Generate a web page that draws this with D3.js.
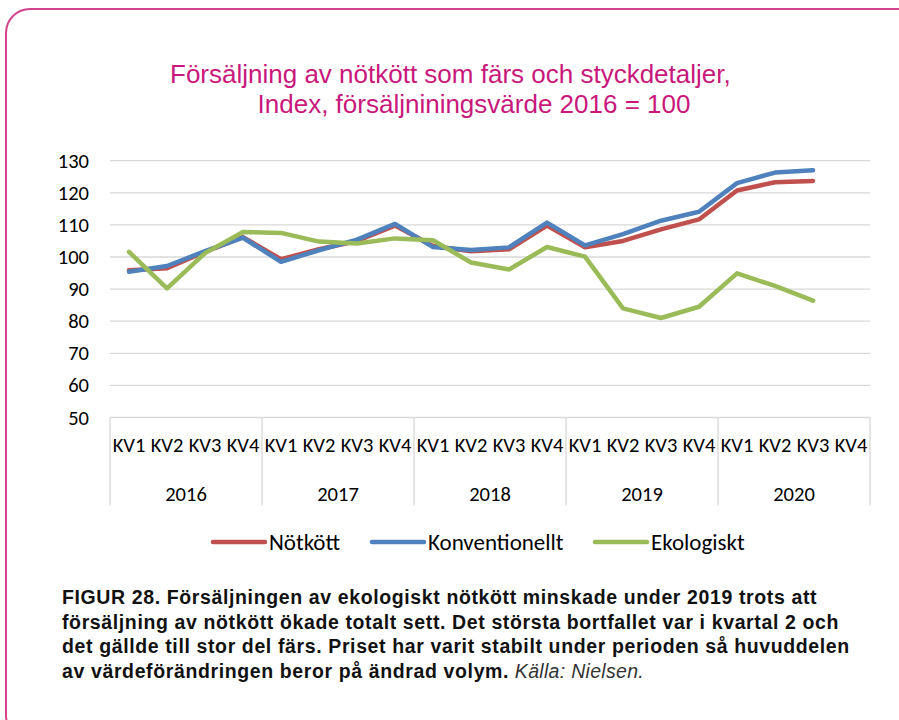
<!DOCTYPE html>
<html>
<head>
<meta charset="utf-8">
<script src="https://cdn.jsdelivr.net/npm/d3@7"></script>
<style>
  body { margin: 0; background: #fff; }
  svg { display: block; }
</style>
</head>
<body>
<div id="chart"></div>
<script>
// data
const years = ["2016", "2017", "2018", "2019", "2020"];
const quarters = ["KV1", "KV2", "KV3", "KV4"];
const yTicks = [50, 60, 70, 80, 90, 100, 110, 120, 130];

const notkott = [95.9, 96.5, 101.6, 106.2, 99.3, 102.4, 105.0, 109.8, 103.4, 101.8,
  102.4, 109.8, 103.0, 105.0, 108.6, 111.7, 120.7, 123.3, 123.7, null];
const konventionellt = [95.4, 97.2, 101.8, 106.0, 98.5, 102.1, 105.4, 110.3, 103.1, 102.2,
  103.0, 110.7, 103.6, 107.1, 111.3, 114.1, 123.0, 126.3, 127.0, null];
const ekologiskt = [101.6, 90.2, 101.2, 107.8, 107.5, 104.8, 104.2, 105.8, 105.2, 98.3,
  96.1, 103.1, 100.1, 84.0, 81.0, 84.5, 94.9, 91.0, 86.4, null];

const seriesNames = ["Nötkött", "Konventionellt", "Ekologiskt"];
const seriesColors = ["#c0504d", "#4f81bd", "#9bbb59"];

const width = 899, height = 720;
const margin = { top: 160.7, right: 29, bottom: 302.5, left: 110 };
const innerW = width - margin.left - margin.right;
const innerH = height - margin.top - margin.bottom;

const svg = d3.select("#chart").append("svg")
  .attr("width", width)
  .attr("height", height);

// pink frame
svg.append("rect")
  .attr("x", 6).attr("y", 9)
  .attr("width", 920).attr("height", 730)
  .attr("rx", 24)
  .attr("fill", "none")
  .attr("stroke", "#d2438c")
  .attr("stroke-width", 2);

// title
const title = svg.append("text")
  .attr("fill", "#c8187c")
  .style("font-family", "'Liberation Sans', Arial, sans-serif")
  .style("font-size", "26px");
title.append("tspan").attr("x", 170).attr("y", 83)
  .text("Försäljning av nötkött som färs och styckdetaljer,");
title.append("tspan").attr("x", 474).attr("y", 113)
  .attr("text-anchor", "middle")
  .text("Index, försäljniningsvärde 2016 = 100");

const g = svg.append("g")
  .attr("transform", `translate(${margin.left},${margin.top})`);

const cats = [];
years.forEach(yr => quarters.forEach(q => cats.push(yr + " " + q)));

const x = d3.scaleBand().domain(cats).range([0, innerW]);
const y = d3.scaleLinear().domain([50, 130]).range([innerH, 0]);

const labelFont = "Carlito, Calibri, 'Liberation Sans Narrow', 'Liberation Sans', sans-serif";

// gridlines
g.append("g")
  .selectAll("line")
  .data(yTicks)
  .join("line")
  .attr("x1", 0).attr("x2", innerW)
  .attr("y1", d => y(d)).attr("y2", d => y(d))
  .attr("stroke", "#d9d9d9")
  .attr("stroke-width", 1.3);

// y axis labels
const yAxis = g.append("g")
  .call(d3.axisLeft(y).tickValues(yTicks).tickSize(0).tickPadding(21));
yAxis.select(".domain").remove();
yAxis.selectAll("text")
  .style("font-family", labelFont)
  .style("font-size", "20.5px")
  .attr("fill", "#000");

// category axis: quarter labels
const xAxis = g.append("g")
  .attr("transform", `translate(0,${innerH})`)
  .call(d3.axisBottom(x).tickSize(0).tickPadding(20).tickFormat(d => d.split(" ")[1]));
xAxis.select(".domain").remove();
xAxis.selectAll("text")
  .style("font-family", labelFont)
  .style("font-size", "20.5px")
  .attr("fill", "#000");

// year separators
const yearBounds = years.map(yr => x(yr + " KV1")).concat([innerW]);
g.append("g")
  .selectAll("line")
  .data(yearBounds)
  .join("line")
  .attr("x1", d => d).attr("x2", d => d)
  .attr("y1", innerH).attr("y2", innerH + 88)
  .attr("stroke", "#d9d9d9")
  .attr("stroke-width", 1.3);

// year labels
g.append("g")
  .selectAll("text")
  .data(years)
  .join("text")
  .attr("x", d => x(d + " KV2") + x.bandwidth())
  .attr("y", innerH + 83.5)
  .attr("text-anchor", "middle")
  .style("font-family", labelFont)
  .style("font-size", "20.5px")
  .text(d => d);

// lines
const allSeries = [notkott, konventionellt, ekologiskt];
const line = d3.line()
  .defined(d => d.v != null)
  .x(d => x(d.c) + x.bandwidth() / 2)
  .y(d => y(d.v));

allSeries.forEach((vals, i) => {
  g.append("path")
    .datum(vals.map((v, j) => ({ c: cats[j], v: v })))
    .attr("fill", "none")
    .attr("stroke", seriesColors[i])
    .attr("stroke-width", 4.5)
    .attr("stroke-linejoin", "round")
    .attr("stroke-linecap", "round")
    .attr("d", line);
});

// legend
const legendX = [213, 372, 595];
const legend = svg.append("g");
seriesNames.forEach((name, i) => {
  legend.append("line")
    .attr("x1", legendX[i]).attr("x2", legendX[i] + 52)
    .attr("y1", 542).attr("y2", 542)
    .attr("stroke", seriesColors[i])
    .attr("stroke-width", 4.5)
    .attr("stroke-linecap", "round");
  legend.append("text")
    .attr("x", legendX[i] + 56)
    .attr("y", 549.5)
    .style("font-family", labelFont)
    .style("font-size", "23px")
    .text(name);
});

// caption
const captionLines = [
  "FIGUR 28. Försäljningen av ekologiskt nötkött minskade under 2019 trots att",
  "försäljning av nötkött ökade totalt sett. Det största bortfallet var i kvartal 2 och",
  "det gällde till stor del färs. Priset har varit stabilt under perioden så huvuddelen",
  "av värdeförändringen beror på ändrad volym."
];
const caption = svg.append("g")
  .style("font-family", "'Liberation Sans', Arial, sans-serif")
  .style("font-size", "19.5px")
  .style("font-weight", "bold")
  .style("letter-spacing", "0.62px")
  .attr("fill", "#111");
captionLines.forEach((t, i) => {
  const txt = caption.append("text")
    .attr("x", 62)
    .attr("y", 604 + i * 24.5)
    .text(t);
  if (i === 3) {
    txt.append("tspan")
      .style("font-weight", "normal")
      .style("font-style", "italic")
      .style("letter-spacing", "0.3px")
      .attr("fill", "#333")
      .text(" Källa: Nielsen.");
  }
});
</script>
</body>
</html>
